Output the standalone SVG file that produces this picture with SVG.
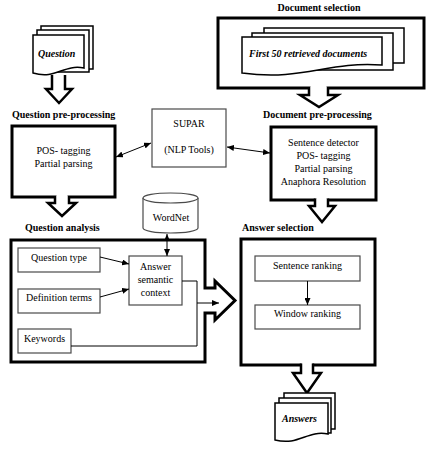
<svg xmlns="http://www.w3.org/2000/svg" width="429" height="459" viewBox="0 0 429 459">
<style>
text{font-family:"Liberation Serif","Times New Roman",serif;font-size:10px;fill:#000}
.lbl{font-weight:bold}
.bi{font-weight:bold;font-style:italic}
.mid{text-anchor:middle}
.thick{fill:#fff;stroke:#000;stroke-width:3}
.gray{fill:#fff;stroke:#4a4a4a;stroke-width:1.2}
.sheet{fill:#fff;stroke:#000;stroke-width:1.5}
.hollow{fill:#fff;stroke:#000;stroke-width:2.5;stroke-linejoin:miter}
.conn{fill:none;stroke:#000;stroke-width:1}
</style>
<defs>
<marker id="ah" markerUnits="userSpaceOnUse" markerWidth="8" markerHeight="6" refX="7" refY="3" orient="auto-start-reverse">
<path d="M0,0 L7,3 L0,6 Z" fill="#000"/>
</marker>
</defs>

<g id="question-doc">
<rect class="sheet" x="41" y="26" width="52" height="43"/>
<rect class="sheet" x="37" y="30" width="52" height="42"/>
<path class="sheet" d="M33,35 H84 V68 C63,64 56,80 33,73 Z"/>
<text class="bi" x="38" y="57">Question</text>
<path class="hollow" d="M52,75 V89 H46 L59,103 L72,89 H65 V75"/>
</g>

<g id="document-selection">
<text class="lbl mid" x="319" y="11">Document selection</text>
<rect class="thick" x="218" y="18" width="206" height="70"/>
<rect class="sheet" x="264" y="28" width="140" height="35"/>
<rect class="sheet" x="252" y="33" width="141" height="37"/>
<path class="sheet" d="M242,37 H382 V65 C326,61 305,81 242,73 Z"/>
<text class="bi" x="249" y="57">First 50 retrieved documents</text>
<rect x="310.5" y="85" width="16" height="6" fill="#fff"/>
<path class="hollow" d="M309,87 V95 H300 L319,107 L338,95 H328 V87"/>
</g>

<g id="question-preprocessing">
<text class="lbl" x="12" y="118">Question pre-processing</text>
<rect class="thick" x="12" y="126" width="103" height="71"/>
<text class="mid" x="63.5" y="154">POS- tagging</text>
<text class="mid" x="63.5" y="167">Partial parsing</text>
<rect x="56.5" y="194" width="11" height="6" fill="#fff"/>
<path class="hollow" d="M55,196 V203 H48 L62,216 L76,203 H69 V196"/>
</g>

<g id="supar">
<rect class="gray" x="152" y="109" width="74" height="58"/>
<text class="mid" x="189" y="126.5">SUPAR</text>
<text class="mid" x="189" y="152.5">(NLP Tools)</text>
</g>

<g id="document-preprocessing">
<text class="lbl" x="263" y="118">Document pre-processing</text>
<rect class="thick" x="271" y="127" width="105" height="73"/>
<text class="mid" x="323.5" y="146">Sentence detector</text>
<text class="mid" x="323.5" y="159">POS- tagging</text>
<text class="mid" x="323.5" y="172">Partial parsing</text>
<text class="mid" x="323.5" y="185">Anaphora Resolution</text>
<rect x="316.5" y="197" width="10" height="6" fill="#fff"/>
<path class="hollow" d="M315,198.5 V206 H309 L322,222 L335,206 H328 V198.5"/>
</g>

<g id="wordnet">
<path class="gray" d="M143,198 V228 A27.5,5 0 0 0 198,228 V198"/>
<ellipse class="gray" cx="170.5" cy="198" rx="27.5" ry="5"/>
<text class="mid" x="171" y="221">WordNet</text>
</g>

<g id="question-analysis">
<text class="lbl" x="25" y="231">Question analysis</text>
<path class="thick" d="M11,240 H205 V288 H215 V281 L235,300.5 L215,320 V313 H205 V362 H11 Z"/>
<g id="question-type">
<rect class="gray" x="18" y="248" width="82" height="24"/>
<text class="mid" x="59" y="260.5">Question type</text>
</g>
<g id="definition-terms">
<rect class="gray" x="18" y="289" width="82" height="24"/>
<text class="mid" x="59" y="300.5">Definition terms</text>
</g>
<g id="keywords">
<rect class="gray" x="18" y="329" width="53" height="24"/>
<text class="mid" x="44.5" y="341.5">Keywords</text>
</g>
<g id="answer-semantic-context">
<rect class="gray" x="129" y="256" width="53" height="49"/>
<text class="mid" x="155.5" y="269.5">Answer</text>
<text class="mid" x="155.5" y="282.5">semantic</text>
<text class="mid" x="155.5" y="295.5">context</text>
</g>
</g>

<g id="answer-selection">
<text class="lbl" x="242" y="231">Answer selection</text>
<rect class="thick" x="241" y="239" width="134" height="126"/>
<g id="sentence-ranking">
<rect class="gray" x="255" y="256" width="105" height="25"/>
<text class="mid" x="307.5" y="268.5">Sentence ranking</text>
</g>
<g id="window-ranking">
<rect class="gray" x="255" y="305" width="105" height="24"/>
<text class="mid" x="307.5" y="316.5">Window ranking</text>
</g>
<rect x="302" y="362" width="10" height="6" fill="#fff"/>
<path class="hollow" d="M301,363.5 V373 H293 L307,393 L321,373 H313 V363.5"/>
</g>

<g id="answers">
<rect class="sheet" x="284" y="393" width="51" height="36"/>
<rect class="sheet" x="279" y="398" width="52" height="35"/>
<path class="sheet" d="M275,403 H328 V434 C307,430 299,446 275,440 Z"/>
<text class="bi mid" x="299.5" y="422">Answers</text>
</g>

<g id="connectors">
<line class="conn" x1="116" y1="157" x2="151" y2="143" marker-start="url(#ah)" marker-end="url(#ah)"/>
<line class="conn" x1="227" y1="147" x2="270" y2="153" marker-start="url(#ah)" marker-end="url(#ah)"/>
<line class="conn" x1="167" y1="234" x2="167" y2="256" marker-start="url(#ah)" marker-end="url(#ah)"/>
<line class="conn" x1="100" y1="257" x2="129" y2="264" marker-end="url(#ah)"/>
<line class="conn" x1="100" y1="297" x2="129" y2="289" marker-end="url(#ah)"/>
<polyline class="conn" points="182,281 197,281 197,346 71,346"/>
<line class="conn" x1="197" y1="303" x2="219" y2="303" marker-end="url(#ah)"/>
<line class="conn" x1="307.5" y1="281" x2="307.5" y2="305" marker-end="url(#ah)"/>
</g>
</svg>
